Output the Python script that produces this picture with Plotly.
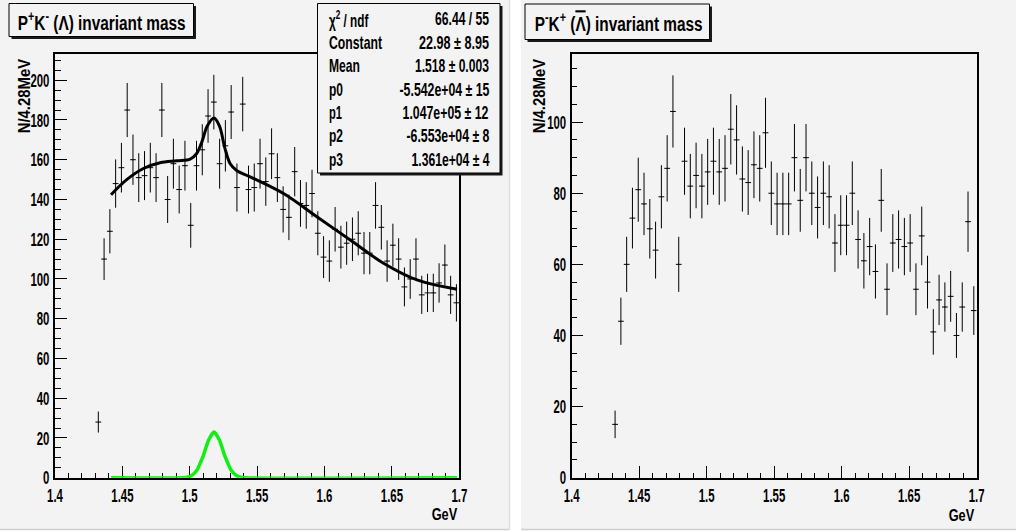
import json
import numpy as np
import plotly.graph_objects as go

W, H = 1016, 532

# ---------------- data ----------------
x_lo, x_hi, n_bins = 1.4, 1.7, 70      # 70 bins of 4.28 MeV
first_bin = 7                           # bins 0..6 are empty

counts_left = [28, 110, 124, 148, 156, 185, 160, 151, 152, 156,
               151, 185, 140, 158, 145, 157, 127, 157, 165, 182,
               189, 158, 167, 184, 146, 188, 145, 146, 158, 149,
               163, 151, 135, 131, 154, 138, 137, 143, 123, 111,
               109, 125, 116, 118, 120, 123, 113, 113, 137, 126,
               109, 117, 110, 96, 100, 110, 92, 93, 93, 98,
               107, 92, 88]

counts_right = [15, 44, 60, 73, 81, 77, 70, 64, 79, 87,
                103, 60, 89, 82, 85, 82, 86, 89, 86, 87,
                98, 95, 84, 83, 88, 87, 97, 80, 77, 77,
                77, 90, 78, 90, 80, 76, 80, 79, 66, 71,
                71, 80, 67, 61, 65, 58, 78, 53, 66, 67,
                65, 66, 53, 68, 55, 41, 50, 48, 51, 40,
                48, 72, 47]

# total fit curve
fit_x = [1.4416, 1.4532, 1.4656, 1.478, 1.4904, 1.5003, 1.505, 1.509,
         1.513, 1.518, 1.522, 1.526, 1.530, 1.535, 1.5448, 1.5696,
         1.5943, 1.6191, 1.6438, 1.6686, 1.6983]
fit_y = [142.4, 150.0, 155.6, 158.5, 159.5, 160.3, 163.0, 169.0,
         177.0, 181.0, 177.0, 166.0, 158.0, 154.5, 151.4, 143.0,
         131.3, 119.6, 107.9, 99.5, 94.8]

# gaussian component
gaus_x = [1.4416, 1.495, 1.500, 1.505, 1.510, 1.514, 1.518, 1.522,
          1.526, 1.531, 1.536, 1.541, 1.6983]
gaus_y = [0, 0, 0.5, 3.5, 11, 19, 23, 19, 11, 3.5, 0.5, 0, 0]

x_tick_vals = [1.4, 1.45, 1.5, 1.55, 1.6, 1.65, 1.7]
x_tick_labels = ["1.4", "1.45", "1.5", "1.55", "1.6", "1.65", "1.7"]
y_left_ticks = [0, 20, 40, 60, 80, 100, 120, 140, 160, 180, 200]
y_right_ticks = [0, 20, 40, 60, 80, 100]

title_left = "P<sup>+</sup>K<sup>-</sup> (Λ) invariant mass"
title_right = ("P<sup>-</sup>K<sup>+</sup> "
               "(<span style=\"text-decoration:overline\">Λ</span>) invariant mass")
y_title = "N/4.28MeV"
x_title = "GeV"

stat_labels = ["χ<sup>2</sup> / ndf", "Constant", "Mean", "p0", "p1", "p2", "p3"]
stat_values = ["66.44 / 55", "22.98 ± 8.95", "1.518 ± 0.003",
               "-5.542e+04 ± 15", "1.047e+05 ± 12", "-6.553e+04 ± 8",
               "1.361e+04 ± 4"]

# ---------------- style / layout helpers ----------------
FONT = "Liberation Sans, Arial, Helvetica, sans-serif"
BG = "#f3f3f3"
TICK_SCALE = 0.6           # horizontal condensation of tick labels


def px(x):
    return x / W


def py(y):
    return 1 - y / H


def bold(s):
    return "<b>" + s + "</b>"


bin_w = (x_hi - x_lo) / n_bins


def centers(counts):
    idx = np.arange(first_bin, first_bin + len(counts))
    return x_lo + (idx + 0.5) * bin_w


def hist_trace(counts, xa, ya):
    c = np.array(counts, dtype=float)
    return go.Scatter(
        x=centers(counts), y=c, mode="markers", xaxis=xa, yaxis=ya,
        marker=dict(size=1, color="black"),
        error_y=dict(type="data", array=np.sqrt(c), color="black",
                     thickness=1, width=0),
        error_x=dict(type="data", array=np.full(len(c), bin_w / 2),
                     color="black", thickness=1, width=0),
        hoverinfo="skip",
    )


fig = go.Figure()
fig.add_trace(hist_trace(counts_left, "x", "y"))
fig.add_trace(go.Scatter(x=fit_x, y=fit_y, mode="lines", xaxis="x", yaxis="y",
                         line=dict(color="black", width=3, shape="spline"),
                         hoverinfo="skip"))
fig.add_trace(go.Scatter(x=gaus_x, y=gaus_y, mode="lines", xaxis="x", yaxis="y",
                         line=dict(color="#11ee11", width=3.5, shape="spline",
                                   smoothing=0.6),
                         hoverinfo="skip"))
fig.add_trace(hist_trace(counts_right, "x2", "y2"))

tickfont = dict(family=FONT, size=19, color="black", weight="bold")


def xaxis(domain, anchor):
    return dict(domain=domain, range=[x_lo, x_hi], anchor=anchor,
                automargin=False,
                tickmode="array", tickvals=x_tick_vals,
                ticktext=[bold(t) for t in x_tick_labels],
                ticks="inside", ticklen=12, tickwidth=1, tickcolor="black",
                minor=dict(tickmode="linear", tick0=x_lo, dtick=0.01,
                           ticks="inside", ticklen=5, tickwidth=1,
                           tickcolor="black", showgrid=False),
                showline=True, linecolor="black", linewidth=1.5, mirror=True,
                showgrid=False, zeroline=False, tickfont=tickfont,
                layer="below traces", fixedrange=True)


def yaxis(rng, ticks, anchor):
    return dict(domain=[py(477.7), py(54.2)], range=rng, anchor=anchor,
                automargin=False,
                tickmode="array", tickvals=ticks,
                ticktext=[bold(str(t)) for t in ticks],
                ticks="inside", ticklen=12, tickwidth=1, tickcolor="black",
                minor=dict(tickmode="linear", tick0=0, dtick=5,
                           ticks="inside", ticklen=6, tickwidth=1,
                           tickcolor="black", showgrid=False),
                showline=True, linecolor="black", linewidth=1.5, mirror=True,
                showgrid=False, zeroline=False, tickfont=tickfont,
                layer="below traces", fixedrange=True)


shapes = []
# pads
for x0, x1 in [(0, 509.5), (521, 1016)]:
    shapes.append(dict(type="rect", xref="paper", yref="paper",
                       x0=px(x0), x1=px(x1), y0=py(529), y1=py(0),
                       fillcolor=BG, line=dict(width=0), layer="below"))
    shapes.append(dict(type="line", xref="paper", yref="paper",
                       x0=px(x0), x1=px(x1), y0=py(529.5), y1=py(529.5),
                       line=dict(color="#cfcfcf", width=1.5), layer="below"))
shapes.append(dict(type="line", xref="paper", yref="paper",
                   x0=px(509.5), x1=px(509.5), y0=py(529.5), y1=py(0),
                   line=dict(color="#dddddd", width=1.5), layer="below"))


def box(x0, y0, x1, y1):
    shapes.append(dict(type="rect", xref="paper", yref="paper",
                       x0=px(x0 + 2.5), x1=px(x1 + 2.5), y0=py(y1 + 2.5), y1=py(y0 + 2.5),
                       fillcolor="#1a1a1a", line=dict(width=0), layer="above"))
    shapes.append(dict(type="rect", xref="paper", yref="paper",
                       x0=px(x0), x1=px(x1), y0=py(y1), y1=py(y0),
                       fillcolor=BG, line=dict(color="black", width=1), layer="above"))


box(9, 3.5, 193.5, 36.5)
box(525, 4, 709.5, 39.5)
box(317.5, 3.5, 500, 173)

annotations = []
ann_targets = []   # [target width in px along the text, scale origin]


def text(x, y, s, size, target, xanchor="center", yanchor="middle", angle=0,
         origin=None):
    annotations.append(dict(xref="paper", yref="paper", x=px(x), y=py(y),
                            text=s, showarrow=False, xanchor=xanchor,
                            yanchor=yanchor, textangle=angle,
                            font=dict(family=FONT, size=size, color="black",
                                      weight="bold")))
    if origin is None:
        origin = {"left": "l", "right": "r"}.get(xanchor, "c")
    ann_targets.append([target, origin])


text(101, 20.5, title_left, 21, 168)
text(618, 22.5, title_right, 21, 168)

stat_label_w = [40, 53, 31, 14, 13, 14, 14]
stat_value_w = [54, 70, 74, 90, 86, 83, 78]
row_y0, row_dy = 19.5, 23.4
for i, (lab, val) in enumerate(zip(stat_labels, stat_values)):
    yy = row_y0 + i * row_dy
    text(326.5, yy, lab, 18, stat_label_w[i], xanchor="left")
    text(490.5, yy, val, 18, stat_value_w[i], xanchor="right")

text(24, 56, y_title, 17, 75, yanchor="top", angle=-90, origin="r")
text(539, 56, y_title, 17, 75, yanchor="top", angle=-90, origin="r")
text(459.5, 514, x_title, 17, 26, xanchor="right")
text(976.7, 515, x_title, 17, 26, xanchor="right")

fig.update_layout(
    width=W, height=H, margin=dict(l=0, r=0, t=0, b=0, autoexpand=False),
    autosize=False,
    paper_bgcolor="white", plot_bgcolor=BG, showlegend=False,
    xaxis=xaxis([px(55), px(459.3)], "y"),
    yaxis=yaxis([0, 213.1], y_left_ticks, "x"),
    xaxis2=xaxis([px(571.7), px(976.7)], "y2"),
    yaxis2=yaxis([0, 119.1], y_right_ticks, "x2"),
    shapes=shapes, annotations=annotations,
)

# condense the (bold) text horizontally, like the narrow ROOT font
post_js = """
var gd = document.getElementById('{plot_id}');
var T = __TARGETS__;
var TS = __TS__;
function squeeze(t, ox, s) {
  var tr = t.getAttribute('transform') || '';
  t.setAttribute('transform', tr + ' translate(' + ox + ',0) scale(' + s + ',1) translate(' + (-ox) + ',0)');
}
gd.querySelectorAll('g.annotation').forEach(function (g) {
  var i = +g.getAttribute('data-index');
  var spec = T[i];
  var t = g.querySelector('text.annotation-text');
  if (!spec || !t) return;
  var bb = t.getBBox();
  if (!bb.width) return;
  var s = spec[0] / bb.width;
  var ox = spec[1] === 'l' ? bb.x : (spec[1] === 'r' ? bb.x + bb.width : bb.x + bb.width / 2);
  squeeze(t, ox, s);
});
gd.querySelectorAll('.xtick text, .ytick text, .x2tick text, .y2tick text').forEach(function (t) {
  var ox = parseFloat(t.getAttribute('x')) || 0;
  squeeze(t, ox, TS);
});
""".replace("__TARGETS__", json.dumps(ann_targets)).replace("__TS__", str(TICK_SCALE))

fig.write_html("out.html", post_script=post_js)
